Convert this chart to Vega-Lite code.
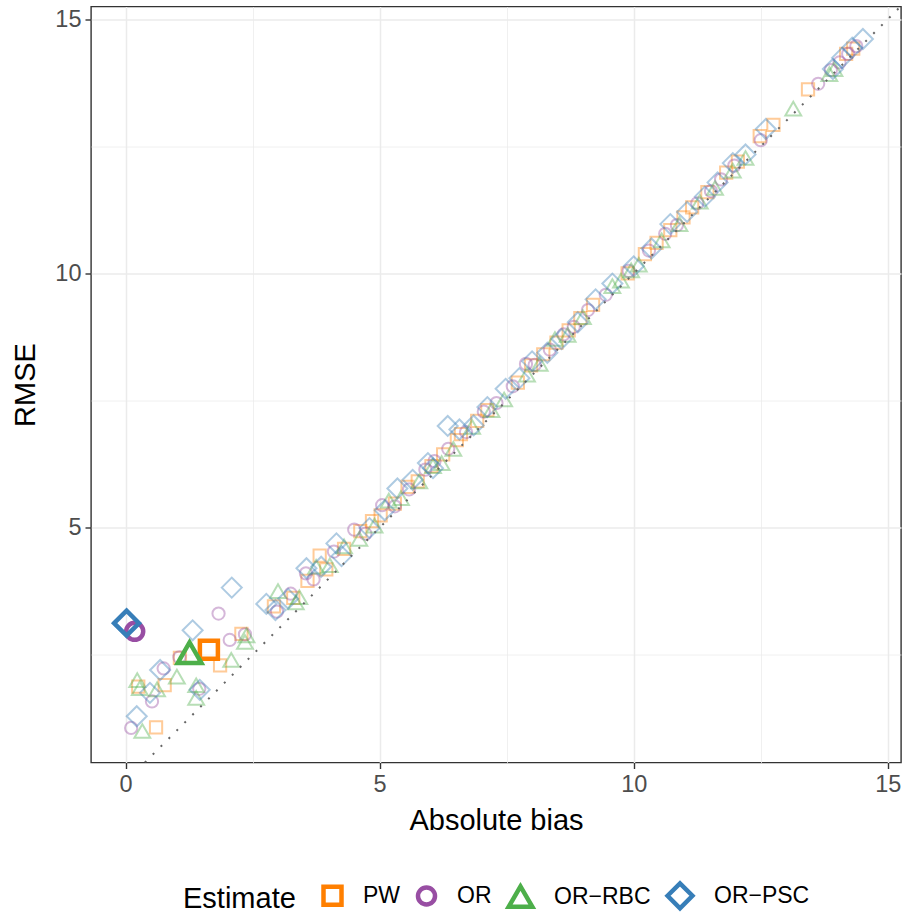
{
"$schema": "https://vega.github.io/schema/vega-lite/v6.json",
"width": 810,
"height": 756,
"autosize": "none",
"padding": {"left": 91, "top": 6.5, "right": 3, "bottom": 151},
"background": "white",
"config": {
  "view": {"stroke": "#333333", "strokeWidth": 1.4},
  "font": "Liberation Sans",
  "axis": {"domain": false, "gridColor": "#EBEBEB", "tickColor": "#333333", "tickWidth": 1.4, "tickSize": 6, "labelColor": "#4D4D4D", "labelFontSize": 23.5, "labelFont": "Liberation Sans", "titleFont": "Liberation Sans", "titleFontSize": 29, "titleFontWeight": "normal", "titleColor": "black", "labelPadding": 4},
  "legend": {"titleFont": "Liberation Sans", "labelFont": "Liberation Sans"}
},
"datasets": {
  "pts": [
    {"Estimate":"PW","kind":"scenario","bias":0.6,"rmse":1.07},
    {"Estimate":"PW","kind":"scenario","bias":0.25,"rmse":1.87},
    {"Estimate":"PW","kind":"scenario","bias":0.77,"rmse":1.9},
    {"Estimate":"PW","kind":"scenario","bias":1.07,"rmse":2.44},
    {"Estimate":"PW","kind":"scenario","bias":1.86,"rmse":2.29},
    {"Estimate":"PW","kind":"scenario","bias":2.28,"rmse":2.91},
    {"Estimate":"PW","kind":"scenario","bias":2.92,"rmse":3.45},
    {"Estimate":"PW","kind":"scenario","bias":3.3,"rmse":3.62},
    {"Estimate":"PW","kind":"scenario","bias":3.58,"rmse":3.95},
    {"Estimate":"PW","kind":"scenario","bias":3.82,"rmse":4.45},
    {"Estimate":"PW","kind":"scenario","bias":3.95,"rmse":4.18},
    {"Estimate":"PW","kind":"scenario","bias":4.3,"rmse":4.58},
    {"Estimate":"PW","kind":"scenario","bias":4.62,"rmse":4.93},
    {"Estimate":"PW","kind":"scenario","bias":4.85,"rmse":5.13},
    {"Estimate":"PW","kind":"scenario","bias":5.02,"rmse":5.24},
    {"Estimate":"PW","kind":"scenario","bias":5.3,"rmse":5.47},
    {"Estimate":"PW","kind":"scenario","bias":5.55,"rmse":5.8},
    {"Estimate":"PW","kind":"scenario","bias":5.75,"rmse":5.91},
    {"Estimate":"PW","kind":"scenario","bias":6.02,"rmse":6.21},
    {"Estimate":"PW","kind":"scenario","bias":6.25,"rmse":6.44},
    {"Estimate":"PW","kind":"scenario","bias":6.52,"rmse":6.72},
    {"Estimate":"PW","kind":"scenario","bias":6.6,"rmse":6.84},
    {"Estimate":"PW","kind":"scenario","bias":6.92,"rmse":7.1},
    {"Estimate":"PW","kind":"scenario","bias":7.12,"rmse":7.31},
    {"Estimate":"PW","kind":"scenario","bias":7.72,"rmse":7.85},
    {"Estimate":"PW","kind":"scenario","bias":7.98,"rmse":8.19},
    {"Estimate":"PW","kind":"scenario","bias":8.22,"rmse":8.41},
    {"Estimate":"PW","kind":"scenario","bias":8.48,"rmse":8.64},
    {"Estimate":"PW","kind":"scenario","bias":8.72,"rmse":8.88},
    {"Estimate":"PW","kind":"scenario","bias":8.95,"rmse":9.12},
    {"Estimate":"PW","kind":"scenario","bias":9.2,"rmse":9.38},
    {"Estimate":"PW","kind":"scenario","bias":9.88,"rmse":10.0},
    {"Estimate":"PW","kind":"scenario","bias":10.22,"rmse":10.38},
    {"Estimate":"PW","kind":"scenario","bias":10.45,"rmse":10.6},
    {"Estimate":"PW","kind":"scenario","bias":10.72,"rmse":10.85},
    {"Estimate":"PW","kind":"scenario","bias":10.98,"rmse":11.1},
    {"Estimate":"PW","kind":"scenario","bias":11.15,"rmse":11.3},
    {"Estimate":"PW","kind":"scenario","bias":11.45,"rmse":11.6},
    {"Estimate":"PW","kind":"scenario","bias":11.82,"rmse":11.98},
    {"Estimate":"PW","kind":"scenario","bias":12.05,"rmse":12.2},
    {"Estimate":"PW","kind":"scenario","bias":12.48,"rmse":12.7},
    {"Estimate":"PW","kind":"scenario","bias":12.75,"rmse":12.92},
    {"Estimate":"PW","kind":"scenario","bias":13.43,"rmse":13.62},
    {"Estimate":"PW","kind":"scenario","bias":14.18,"rmse":14.32},
    {"Estimate":"PW","kind":"scenario","bias":14.32,"rmse":14.42},
    {"Estimate":"OR","kind":"scenario","bias":0.11,"rmse":1.06},
    {"Estimate":"OR","kind":"scenario","bias":0.52,"rmse":1.58},
    {"Estimate":"OR","kind":"scenario","bias":0.75,"rmse":2.23},
    {"Estimate":"OR","kind":"scenario","bias":1.06,"rmse":2.45},
    {"Estimate":"OR","kind":"scenario","bias":1.83,"rmse":3.31},
    {"Estimate":"OR","kind":"scenario","bias":2.05,"rmse":2.79},
    {"Estimate":"OR","kind":"scenario","bias":2.35,"rmse":2.9},
    {"Estimate":"OR","kind":"scenario","bias":1.45,"rmse":1.83},
    {"Estimate":"OR","kind":"scenario","bias":2.98,"rmse":3.35},
    {"Estimate":"OR","kind":"scenario","bias":3.25,"rmse":3.7},
    {"Estimate":"OR","kind":"scenario","bias":3.55,"rmse":4.1},
    {"Estimate":"OR","kind":"scenario","bias":3.7,"rmse":3.98},
    {"Estimate":"OR","kind":"scenario","bias":4.1,"rmse":4.53},
    {"Estimate":"OR","kind":"scenario","bias":4.5,"rmse":4.96},
    {"Estimate":"OR","kind":"scenario","bias":4.72,"rmse":4.88},
    {"Estimate":"OR","kind":"scenario","bias":5.05,"rmse":5.44},
    {"Estimate":"OR","kind":"scenario","bias":5.3,"rmse":5.42},
    {"Estimate":"OR","kind":"scenario","bias":5.58,"rmse":5.75},
    {"Estimate":"OR","kind":"scenario","bias":5.9,"rmse":6.14},
    {"Estimate":"OR","kind":"scenario","bias":6.08,"rmse":6.31},
    {"Estimate":"OR","kind":"scenario","bias":6.35,"rmse":6.55},
    {"Estimate":"OR","kind":"scenario","bias":6.7,"rmse":6.88},
    {"Estimate":"OR","kind":"scenario","bias":7.05,"rmse":7.28},
    {"Estimate":"OR","kind":"scenario","bias":7.3,"rmse":7.45},
    {"Estimate":"OR","kind":"scenario","bias":7.62,"rmse":7.78},
    {"Estimate":"OR","kind":"scenario","bias":7.88,"rmse":8.22},
    {"Estimate":"OR","kind":"scenario","bias":8.05,"rmse":8.2},
    {"Estimate":"OR","kind":"scenario","bias":8.35,"rmse":8.5},
    {"Estimate":"OR","kind":"scenario","bias":8.62,"rmse":8.8},
    {"Estimate":"OR","kind":"scenario","bias":8.82,"rmse":8.95},
    {"Estimate":"OR","kind":"scenario","bias":9.1,"rmse":9.28},
    {"Estimate":"OR","kind":"scenario","bias":9.45,"rmse":9.58},
    {"Estimate":"OR","kind":"scenario","bias":9.9,"rmse":10.05},
    {"Estimate":"OR","kind":"scenario","bias":10.3,"rmse":10.45},
    {"Estimate":"OR","kind":"scenario","bias":10.62,"rmse":10.78},
    {"Estimate":"OR","kind":"scenario","bias":10.85,"rmse":10.95},
    {"Estimate":"OR","kind":"scenario","bias":11.25,"rmse":11.38},
    {"Estimate":"OR","kind":"scenario","bias":11.52,"rmse":11.62},
    {"Estimate":"OR","kind":"scenario","bias":11.72,"rmse":11.85},
    {"Estimate":"OR","kind":"scenario","bias":11.98,"rmse":12.12},
    {"Estimate":"OR","kind":"scenario","bias":12.5,"rmse":12.62},
    {"Estimate":"OR","kind":"scenario","bias":13.63,"rmse":13.73},
    {"Estimate":"OR","kind":"scenario","bias":13.88,"rmse":14.0},
    {"Estimate":"OR","kind":"scenario","bias":14.05,"rmse":14.15},
    {"Estimate":"OR","kind":"scenario","bias":14.22,"rmse":14.32},
    {"Estimate":"OR","kind":"scenario","bias":14.38,"rmse":14.47},
    {"Estimate":"OR−RBC","kind":"scenario","bias":0.23,"rmse":2.0},
    {"Estimate":"OR−RBC","kind":"scenario","bias":0.33,"rmse":1.0},
    {"Estimate":"OR−RBC","kind":"scenario","bias":0.62,"rmse":1.82},
    {"Estimate":"OR−RBC","kind":"scenario","bias":1.01,"rmse":2.07},
    {"Estimate":"OR−RBC","kind":"scenario","bias":1.39,"rmse":1.9},
    {"Estimate":"OR−RBC","kind":"scenario","bias":1.39,"rmse":1.65},
    {"Estimate":"OR−RBC","kind":"scenario","bias":2.08,"rmse":2.4},
    {"Estimate":"OR−RBC","kind":"scenario","bias":2.38,"rmse":2.88},
    {"Estimate":"OR−RBC","kind":"scenario","bias":2.35,"rmse":2.75},
    {"Estimate":"OR−RBC","kind":"scenario","bias":0.28,"rmse":1.84},
    {"Estimate":"OR−RBC","kind":"scenario","bias":3.0,"rmse":3.75},
    {"Estimate":"OR−RBC","kind":"scenario","bias":3.35,"rmse":3.53},
    {"Estimate":"OR−RBC","kind":"scenario","bias":3.42,"rmse":3.63},
    {"Estimate":"OR−RBC","kind":"scenario","bias":3.75,"rmse":4.23},
    {"Estimate":"OR−RBC","kind":"scenario","bias":4.02,"rmse":4.26},
    {"Estimate":"OR−RBC","kind":"scenario","bias":4.3,"rmse":4.63},
    {"Estimate":"OR−RBC","kind":"scenario","bias":4.6,"rmse":4.78},
    {"Estimate":"OR−RBC","kind":"scenario","bias":4.9,"rmse":5.04},
    {"Estimate":"OR−RBC","kind":"scenario","bias":5.18,"rmse":5.53},
    {"Estimate":"OR−RBC","kind":"scenario","bias":5.42,"rmse":5.58},
    {"Estimate":"OR−RBC","kind":"scenario","bias":5.78,"rmse":5.91},
    {"Estimate":"OR−RBC","kind":"scenario","bias":6.05,"rmse":6.21},
    {"Estimate":"OR−RBC","kind":"scenario","bias":6.22,"rmse":6.27},
    {"Estimate":"OR−RBC","kind":"scenario","bias":6.45,"rmse":6.55},
    {"Estimate":"OR−RBC","kind":"scenario","bias":6.82,"rmse":6.98},
    {"Estimate":"OR−RBC","kind":"scenario","bias":7.2,"rmse":7.31},
    {"Estimate":"OR−RBC","kind":"scenario","bias":7.45,"rmse":7.52},
    {"Estimate":"OR−RBC","kind":"scenario","bias":7.9,"rmse":8.01},
    {"Estimate":"OR−RBC","kind":"scenario","bias":8.15,"rmse":8.22},
    {"Estimate":"OR−RBC","kind":"scenario","bias":8.45,"rmse":8.71},
    {"Estimate":"OR−RBC","kind":"scenario","bias":8.7,"rmse":8.79},
    {"Estimate":"OR−RBC","kind":"scenario","bias":9.0,"rmse":9.14},
    {"Estimate":"OR−RBC","kind":"scenario","bias":9.58,"rmse":9.75},
    {"Estimate":"OR−RBC","kind":"scenario","bias":9.75,"rmse":9.86},
    {"Estimate":"OR−RBC","kind":"scenario","bias":9.95,"rmse":10.06},
    {"Estimate":"OR−RBC","kind":"scenario","bias":10.1,"rmse":10.17},
    {"Estimate":"OR−RBC","kind":"scenario","bias":10.55,"rmse":10.65},
    {"Estimate":"OR−RBC","kind":"scenario","bias":10.9,"rmse":10.97},
    {"Estimate":"OR−RBC","kind":"scenario","bias":11.3,"rmse":11.41},
    {"Estimate":"OR−RBC","kind":"scenario","bias":11.6,"rmse":11.68},
    {"Estimate":"OR−RBC","kind":"scenario","bias":11.95,"rmse":12.02},
    {"Estimate":"OR−RBC","kind":"scenario","bias":12.2,"rmse":12.27},
    {"Estimate":"OR−RBC","kind":"scenario","bias":13.14,"rmse":13.24},
    {"Estimate":"OR−RBC","kind":"scenario","bias":13.85,"rmse":13.92},
    {"Estimate":"OR−RBC","kind":"scenario","bias":13.95,"rmse":14.02},
    {"Estimate":"OR−PSC","kind":"scenario","bias":0.22,"rmse":1.29},
    {"Estimate":"OR−PSC","kind":"scenario","bias":0.48,"rmse":1.75},
    {"Estimate":"OR−PSC","kind":"scenario","bias":0.68,"rmse":2.2},
    {"Estimate":"OR−PSC","kind":"scenario","bias":1.32,"rmse":2.98},
    {"Estimate":"OR−PSC","kind":"scenario","bias":1.46,"rmse":1.81},
    {"Estimate":"OR−PSC","kind":"scenario","bias":2.09,"rmse":3.82},
    {"Estimate":"OR−PSC","kind":"scenario","bias":2.77,"rmse":3.5},
    {"Estimate":"OR−PSC","kind":"scenario","bias":2.95,"rmse":3.38},
    {"Estimate":"OR−PSC","kind":"scenario","bias":3.2,"rmse":3.6},
    {"Estimate":"OR−PSC","kind":"scenario","bias":3.56,"rmse":4.2},
    {"Estimate":"OR−PSC","kind":"scenario","bias":4.15,"rmse":4.69},
    {"Estimate":"OR−PSC","kind":"scenario","bias":3.85,"rmse":4.23},
    {"Estimate":"OR−PSC","kind":"scenario","bias":4.25,"rmse":4.44},
    {"Estimate":"OR−PSC","kind":"scenario","bias":4.8,"rmse":4.99},
    {"Estimate":"OR−PSC","kind":"scenario","bias":5.1,"rmse":5.34},
    {"Estimate":"OR−PSC","kind":"scenario","bias":5.35,"rmse":5.77},
    {"Estimate":"OR−PSC","kind":"scenario","bias":5.65,"rmse":5.94},
    {"Estimate":"OR−PSC","kind":"scenario","bias":5.95,"rmse":6.27},
    {"Estimate":"OR−PSC","kind":"scenario","bias":6.05,"rmse":6.17},
    {"Estimate":"OR−PSC","kind":"scenario","bias":6.34,"rmse":7.0},
    {"Estimate":"OR−PSC","kind":"scenario","bias":6.57,"rmse":6.93},
    {"Estimate":"OR−PSC","kind":"scenario","bias":6.85,"rmse":7.01},
    {"Estimate":"OR−PSC","kind":"scenario","bias":7.12,"rmse":7.37},
    {"Estimate":"OR−PSC","kind":"scenario","bias":7.48,"rmse":7.73},
    {"Estimate":"OR−PSC","kind":"scenario","bias":7.75,"rmse":7.94},
    {"Estimate":"OR−PSC","kind":"scenario","bias":8.0,"rmse":8.27},
    {"Estimate":"OR−PSC","kind":"scenario","bias":8.3,"rmse":8.44},
    {"Estimate":"OR−PSC","kind":"scenario","bias":8.58,"rmse":8.71},
    {"Estimate":"OR−PSC","kind":"scenario","bias":8.9,"rmse":9.04},
    {"Estimate":"OR−PSC","kind":"scenario","bias":9.25,"rmse":9.49},
    {"Estimate":"OR−PSC","kind":"scenario","bias":9.58,"rmse":9.8},
    {"Estimate":"OR−PSC","kind":"scenario","bias":10.0,"rmse":10.14},
    {"Estimate":"OR−PSC","kind":"scenario","bias":10.35,"rmse":10.49},
    {"Estimate":"OR−PSC","kind":"scenario","bias":10.72,"rmse":10.97},
    {"Estimate":"OR−PSC","kind":"scenario","bias":11.05,"rmse":11.21},
    {"Estimate":"OR−PSC","kind":"scenario","bias":11.4,"rmse":11.51},
    {"Estimate":"OR−PSC","kind":"scenario","bias":11.65,"rmse":11.79},
    {"Estimate":"OR−PSC","kind":"scenario","bias":11.95,"rmse":12.17},
    {"Estimate":"OR−PSC","kind":"scenario","bias":12.2,"rmse":12.34},
    {"Estimate":"OR−PSC","kind":"scenario","bias":12.6,"rmse":12.84},
    {"Estimate":"OR−PSC","kind":"scenario","bias":13.92,"rmse":14.02},
    {"Estimate":"OR−PSC","kind":"scenario","bias":14.1,"rmse":14.24},
    {"Estimate":"OR−PSC","kind":"scenario","bias":14.3,"rmse":14.44},
    {"Estimate":"OR−PSC","kind":"scenario","bias":14.51,"rmse":14.61},
    {"Estimate":"PW","kind":"mean","bias":1.64,"rmse":2.6},
    {"Estimate":"OR","kind":"mean","bias":0.18,"rmse":2.96},
    {"Estimate":"OR−RBC","kind":"mean","bias":1.26,"rmse":2.54},
    {"Estimate":"OR−PSC","kind":"mean","bias":0.02,"rmse":3.12}
  ],
  "diag": [{"bias": 0.38, "rmse": 0.38, "bias2": 15.25, "rmse2": 15.25}]
},
"layer": [
  {
    "data": {"name": "pts"},
    "transform": [{"filter": "datum.kind === 'scenario'"}],
    "mark": {"type": "point", "filled": false, "opacity": 0.4, "strokeWidth": 2, "clip": true},
    "encoding": {
      "x": {"field": "bias", "type": "quantitative", "title": "Absolute bias",
        "scale": {"domain": [-0.68, 15.26], "nice": false, "zero": false},
        "axis": {"values": [0, 2.5, 5, 7.5, 10, 12.5, 15], "labelExpr": "datum.value % 5 === 0 ? datum.label : ''",
          "tickOpacity": {"condition": {"test": "datum.value % 5 === 0", "value": 1}, "value": 0},
          "gridWidth": {"condition": {"test": "datum.value % 5 === 0", "value": 1.5}, "value": 0.75},
          "titlePadding": 10}},
      "y": {"field": "rmse", "type": "quantitative", "title": "RMSE",
        "scale": {"domain": [0.38, 15.25], "nice": false, "zero": false},
        "axis": {"values": [2.5, 5, 7.5, 10, 12.5, 15], "labelExpr": "datum.value % 5 === 0 ? datum.label : ''",
          "tickOpacity": {"condition": {"test": "datum.value % 5 === 0", "value": 1}, "value": 0},
          "gridWidth": {"condition": {"test": "datum.value % 5 === 0", "value": 1.5}, "value": 0.75},
          "titlePadding": 14}},
      "color": {"field": "Estimate", "type": "nominal", "title": "Estimate",
        "scale": {"domain": ["PW", "OR", "OR−RBC", "OR−PSC"], "range": ["#FF7F00", "#984EA3", "#4DAF4A", "#377EB8"]},
        "legend": {"orient": "none", "legendX": 92, "legendY": 874, "direction": "horizontal", "titleOrient": "left", "titleFontSize": 29, "titleFontWeight": "normal", "titleColor": "black", "labelFontSize": 23, "labelColor": "black", "symbolStrokeWidth": 4.5, "symbolOpacity": 1, "labelOffset": 19, "columnPadding": 7, "titlePadding": 25}},
      "shape": {"field": "Estimate", "type": "nominal", "title": "Estimate",
        "scale": {"domain": ["PW", "OR", "OR−RBC", "OR−PSC"], "range": ["square", "circle", "triangle-up", "diamond"]},
        "legend": {"orient": "none", "legendX": 92, "legendY": 874, "direction": "horizontal", "titleOrient": "left", "titleFontSize": 29, "titleFontWeight": "normal", "titleColor": "black", "labelFontSize": 23, "labelColor": "black", "symbolStrokeWidth": 4.5, "symbolOpacity": 1, "labelOffset": 19, "columnPadding": 7, "titlePadding": 25}},
      "size": {"condition": [
        {"test": "datum.Estimate === 'OR−RBC'", "value": 250},
        {"test": "datum.Estimate === 'OR−PSC'", "value": 400}
      ], "value": 150}
    }
  },
  {
    "data": {"name": "diag"},
    "mark": {"type": "rule", "color": "#666666", "strokeWidth": 2, "strokeDash": [2, 9.2], "clip": true},
    "encoding": {
      "x": {"field": "bias", "type": "quantitative"},
      "y": {"field": "rmse", "type": "quantitative"},
      "x2": {"field": "bias2"},
      "y2": {"field": "rmse2"}
    }
  },
  {
    "data": {"name": "pts"},
    "transform": [{"filter": "datum.kind === 'mean'"}],
    "mark": {"type": "point", "filled": false, "opacity": 1, "strokeWidth": 4.5, "clip": true},
    "encoding": {
      "x": {"field": "bias", "type": "quantitative"},
      "y": {"field": "rmse", "type": "quantitative"},
      "color": {"field": "Estimate", "type": "nominal", "title": "Estimate"},
      "shape": {"field": "Estimate", "type": "nominal", "title": "Estimate"},
      "size": {"field": "Estimate", "type": "nominal", "title": "Estimate",
        "scale": {"type": "ordinal", "domain": ["PW", "OR", "OR−RBC", "OR−PSC"], "range": [324, 290, 560, 620]},
        "legend": {"orient": "none", "legendX": 92, "legendY": 874, "direction": "horizontal", "titleOrient": "left", "titleFontSize": 29, "titleFontWeight": "normal", "titleColor": "black", "labelFontSize": 23, "labelColor": "black", "symbolStrokeWidth": 4.5, "symbolOpacity": 1, "labelOffset": 19, "columnPadding": 7, "titlePadding": 25}}
    }
  }
]
}
